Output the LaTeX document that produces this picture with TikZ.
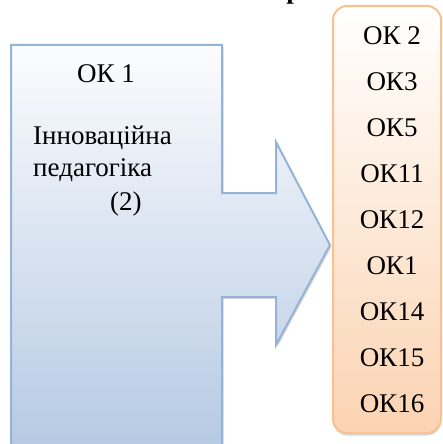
\documentclass[tikz,border=0pt]{standalone}
\usepackage{fontspec}
\setmainfont{Liberation Serif}
\usetikzlibrary{shadows}
\definecolor{arrline}{HTML}{95B3D7}
\definecolor{arrtop}{HTML}{FBFCFE}
\definecolor{arrbot}{HTML}{B6CAE3}
\definecolor{boxline}{HTML}{FAC090}
\definecolor{boxbot}{HTML}{FBD3B2}
\tikzset{
  arrshape/.style = {draw=arrline, line width=2pt, top color=arrtop, bottom color=arrbot,
                     drop shadow={shadow xshift=1.5pt, shadow yshift=-2pt, opacity=0.3}},
  okbox/.style    = {draw=boxline, line width=2pt, rounded corners=14pt,
                     top color=white, bottom color=boxbot,
                     drop shadow={shadow xshift=0pt, shadow yshift=-2.5pt, opacity=0.3}},
  txt/.style      = {font=\fontsize{27}{31}\selectfont, inner sep=0pt, anchor=base},
  lbl/.style      = {txt, anchor=base west}
}

\begin{document}
\begin{tikzpicture}[x=1pt, y=-1pt]
\useasboundingbox (0,0) rectangle (442,444);
% ---- cut-off heading ----
\node[txt, font=\fontsize{27}{31}\selectfont\bfseries] (head) at (294,-1) {р};

% ---- left block with arrow ----
\path[arrshape] (11,45) -- (222,45) -- (222,193) -- (276,193) -- (276,142)
  -- (330,245) -- (276,345) -- (276,297) -- (222,297) -- (222,446)
  -- (11,446) -- cycle;
\node[txt] (ok1) at (106,82) {ОК 1};
\node[lbl] (name1) at (33,144) {Інноваційна};
\node[lbl] (name2) at (33,176) {педагогіка};
\node[lbl] (cred) at (110,210) {(2)};

% ---- right list of competences ----
\path[okbox] (333,6) rectangle (441,433);
\foreach \t [count=\i] in {ОК 2,ОК3,ОК5,ОК11,ОК12,ОК1,ОК14,ОК15,ОК16}
  \node[txt] (ok-\i) at (392,{45+45.9*(\i-1)}) {\t};
\end{tikzpicture}
\end{document}
